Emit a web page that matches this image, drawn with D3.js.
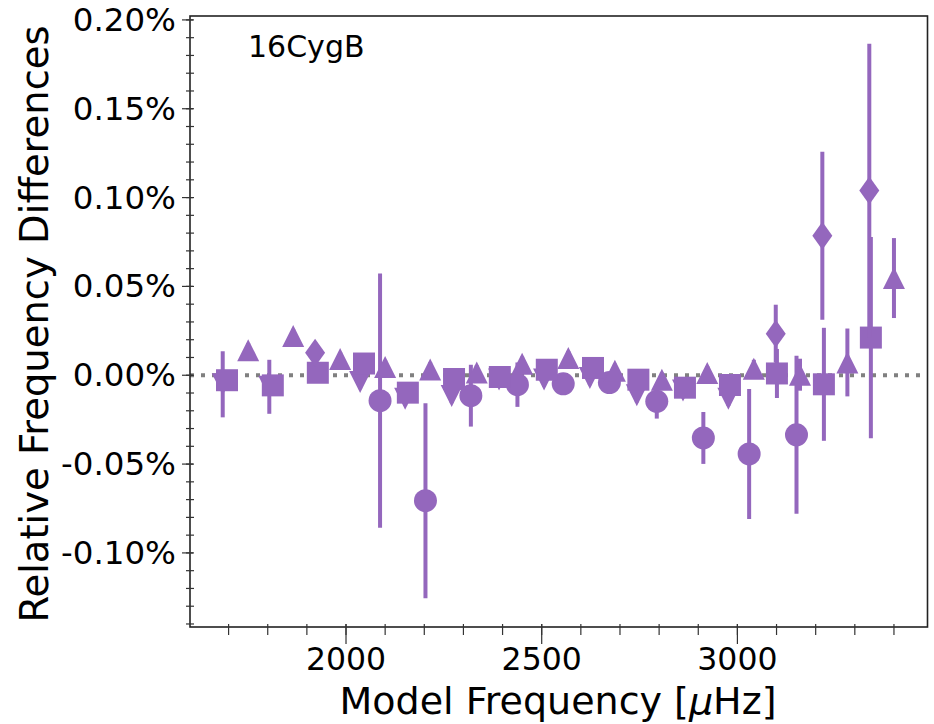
<!DOCTYPE html>
<html>
<head>
<meta charset="utf-8">
<script src="https://cdn.jsdelivr.net/npm/d3@7"></script>
<style>
  html, body { margin: 0; padding: 0; background: #fff; }
  svg { display: block; }
  text { font-family: "DejaVu Sans", sans-serif; fill: #000; }
</style>
</head>
<body>
<svg id="chart" width="934" height="724"></svg>
<script>
// ---- data (frequencies in µHz, values and errors in %) ----
const circleFreq = [2087, 2203, 2319, 2438, 2555, 2673, 2794, 2913, 3030, 3151];
const circleVal  = [-0.0143, -0.0706, -0.0115, -0.0053, -0.0048, -0.0041, -0.0147, -0.0353, -0.0443, -0.0335];
const circleErr  = [0.0715, 0.0549, 0.0174, 0.0125, 0.0050, 0.0050, 0.0097, 0.0146, 0.0366, 0.0445];

const triUpFreq = [1750, 1865, 1985, 2100, 2215, 2334, 2450, 2568, 2687, 2807, 2923, 3042, 3160, 3281, 3400];
const triUpVal  = [0.0141, 0.0221, 0.0091, 0.0046, 0.0033, 0.0016, 0.0065, 0.0097, 0.0025, -0.0025, 0.0012, 0.0037, 0.0003, 0.0072, 0.0547];
const triUpErr  = [0.004, 0.004, 0.004, 0.004, 0.004, 0.004, 0.004, 0.004, 0.004, 0.004, 0.004, 0.005, 0.009, 0.0191, 0.0225];

const squareFreq = [1696, 1813, 1928, 2046, 2158, 2276, 2393, 2513, 2631, 2747, 2866, 2981, 3101, 3221, 3341];
const squareVal  = [-0.0028, -0.0057, 0.0014, 0.0066, -0.0098, -0.0021, -0.0010, 0.0031, 0.0041, -0.0025, -0.0070, -0.0055, 0.0010, -0.0051, 0.0212];
const squareErr  = [0.004, 0.004, 0.003, 0.003, 0.004, 0.003, 0.003, 0.003, 0.003, 0.003, 0.004, 0.005, 0.0138, 0.0318, 0.0566];

const triDownFreq = [1685, 1804, 2036, 2151, 2270, 2391, 2506, 2623, 2743, 2861, 2977];
const triDownVal  = [-0.0051, -0.0065, -0.0038, -0.0132, -0.0117, -0.0024, -0.0024, -0.0016, -0.0113, -0.0086, -0.0132];
const triDownErr  = [0.0186, 0.0152, 0.004, 0.004, 0.004, 0.004, 0.004, 0.004, 0.004, 0.004, 0.004];

const diamondFreq = [1921, 3098, 3217, 3337];
const diamondVal  = [0.0127, 0.0234, 0.0785, 0.1040];
const diamondErr  = [0.004, 0.0163, 0.0473, 0.0826];

const xMajorTicks = [2000, 2500, 3000];
const xMinorTicks = d3.range(1700, 3401, 100);
const yMajorTicks = [-0.10, -0.05, 0.00, 0.05, 0.10, 0.15, 0.20];
const yMinorTicks = d3.range(-14, 21, 1).map(v => v / 100);

const starLabel = "16CygB";
const xLabel = "Model Frequency [";
const yLabel = "Relative Frequency Differences";

// ---- layout ----
const svg = d3.select("#chart");
const L = 190, R = 927.5, T = 16, B = 627;
const color = "#9467bd";

const x = d3.scaleLinear().domain([1601.4, 3485.7]).range([L, R]);
const y = d3.scaleLinear().domain([-0.1417, 0.2022]).range([B, T]);

// zero line
svg.append("line")
  .attr("x1", L).attr("x2", R)
  .attr("y1", y(0)).attr("y2", y(0))
  .attr("stroke", "#808080").attr("stroke-width", 4)
  .attr("stroke-dasharray", "4,7");

// series
const series = [
  {f: triDownFreq, v: triDownVal, e: triDownErr, shape: "tridown"},
  {f: circleFreq, v: circleVal, e: circleErr, shape: "circle"},
  {f: triUpFreq, v: triUpVal, e: triUpErr, shape: "triup"},
  {f: squareFreq, v: squareVal, e: squareErr, shape: "square"},
  {f: diamondFreq, v: diamondVal, e: diamondErr, shape: "diamond"}
];

function shapePath(shape) {
  switch (shape) {
    case "circle": return d3.symbol().type(d3.symbolCircle).size(Math.PI * 11.5 * 11.5)();
    case "square": return "M-11,-11L11,-11L11,11L-11,11Z";
    case "triup": return "M0,-11L11,11L-11,11Z";
    case "tridown": return "M0,11L11,-11L-11,-11Z";
    case "diamond": return "M0,-14L10,0L0,14L-10,0Z";
  }
}

series.forEach(s => {
  const g = svg.append("g");
  const pts = s.f.map((f, i) => ({f, v: s.v[i], e: s.e[i]}));
  g.selectAll("line.err").data(pts).enter().append("line")
    .attr("x1", d => x(d.f)).attr("x2", d => x(d.f))
    .attr("y1", d => y(d.v - d.e)).attr("y2", d => y(d.v + d.e))
    .attr("stroke", color).attr("stroke-width", 4);
  g.selectAll("path.mk").data(pts).enter().append("path")
    .attr("transform", d => `translate(${x(d.f)},${y(d.v)})`)
    .attr("d", shapePath(s.shape))
    .attr("fill", color);
});

// frame
svg.append("rect").attr("x", L).attr("y", T).attr("width", R - L).attr("height", B - T)
  .attr("fill", "none").attr("stroke", "#222").attr("stroke-width", 1.6);

// x ticks
const tickColor = "#333";
svg.append("g").selectAll("line").data(xMinorTicks).enter().append("line")
  .attr("x1", d => x(d)).attr("x2", d => x(d)).attr("y1", B - 3).attr("y2", B + 8)
  .attr("stroke", tickColor).attr("stroke-width", 1.2);
svg.append("g").selectAll("line").data(xMajorTicks).enter().append("line")
  .attr("x1", d => x(d)).attr("x2", d => x(d)).attr("y1", B - 3).attr("y2", B + 17)
  .attr("stroke", tickColor).attr("stroke-width", 1.2);
svg.append("g").selectAll("text").data(xMajorTicks).enter().append("text")
  .attr("x", d => x(d)).attr("y", 670)
  .attr("text-anchor", "middle").attr("font-size", 31.5)
  .text(d => d3.format("d")(d));

// y ticks
svg.append("g").selectAll("line").data(yMinorTicks).enter().append("line")
  .attr("x1", L - 4).attr("x2", L + 4).attr("y1", d => y(d)).attr("y2", d => y(d))
  .attr("stroke", tickColor).attr("stroke-width", 1.2);
svg.append("g").selectAll("line").data(yMajorTicks).enter().append("line")
  .attr("x1", L - 8).attr("x2", L + 3).attr("y1", d => y(d)).attr("y2", d => y(d))
  .attr("stroke", tickColor).attr("stroke-width", 1.2);
svg.append("g").selectAll("text").data(yMajorTicks).enter().append("text")
  .attr("x", 176).attr("y", d => y(d) + 11)
  .attr("text-anchor", "end").attr("font-size", 32.5)
  .text(d => (d < 0 ? "-" : "") + Math.abs(d).toFixed(2) + "%");

// axis labels
const xl = svg.append("text").attr("x", 558).attr("y", 714)
  .attr("text-anchor", "middle").attr("font-size", 38);
xl.append("tspan").text(xLabel);
xl.append("tspan").attr("font-style", "italic").text("μ");
xl.append("tspan").text("Hz]");

svg.append("text")
  .attr("transform", "translate(48,324) rotate(-90)")
  .attr("text-anchor", "middle").attr("font-size", 38.5)
  .text(yLabel);

// annotation
svg.append("text").attr("x", 248).attr("y", 57).attr("font-size", 30).text(starLabel);
</script>
</body>
</html>
